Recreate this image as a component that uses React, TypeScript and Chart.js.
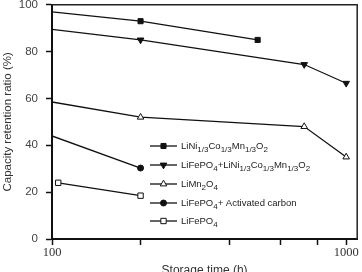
import React, { useEffect, useRef } from 'react';
import { Chart, registerables } from 'chart.js';
import { drawPoint } from 'chart.js/helpers';

Chart.register(...registerables);

// Storage time (h) and capacity retention (%) for each cell type
const ncmTimes = [100, 200, 500];
const ncmRetention = [97, 93, 85];
const blendTimes = [100, 200, 720, 1000];
const blendRetention = [89.5, 85, 74.5, 66.5];
const lmoTimes = [100, 200, 720, 1000];
const lmoRetention = [58.5, 52, 48, 35];
const carbonTimes = [100, 200];
const carbonRetention = [44, 30.3];
const lfpTimes = [105, 200];
const lfpRetention = [24, 18.5];

const yTickValues = [0, 20, 40, 60, 80, 100];
const xTickValues = [100, 200, 400, 600, 800, 1000];
const xTickLabels = ['100', '', '', '', '', '1000'];

// Legend labels as [text, isSubscript] segments
type Seg = [string, boolean];
const legendLabels: Seg[][] = [
  [['LiNi', false], ['1/3', true], ['Co', false], ['1/3', true], ['Mn', false], ['1/3', true], ['O', false], ['2', true]],
  [['LiFePO', false], ['4', true], ['+LiNi', false], ['1/3', true], ['Co', false], ['1/3', true], ['Mn', false], ['1/3', true], ['O', false], ['2', true]],
  [['LiMn', false], ['2', true], ['O', false], ['4', true]],
  [['LiFePO', false], ['4', true], ['+ Activated carbon', false]],
  [['LiFePO', false], ['4', true]],
];

const INK = '#111';

interface Marker { style: string; filled: boolean; rotation: number; radius: number; }
const markers: Marker[] = [
  { style: 'rect', filled: true, rotation: 0, radius: 3.6 },
  { style: 'triangle', filled: true, rotation: 180, radius: 3.8 },
  { style: 'triangle', filled: false, rotation: 0, radius: 3.8 },
  { style: 'circle', filled: true, rotation: 0, radius: 3 },
  { style: 'rect', filled: false, rotation: 0, radius: 3.8 },
];

const seriesTimes = [ncmTimes, blendTimes, lmoTimes, carbonTimes, lfpTimes];
const seriesValues = [ncmRetention, blendRetention, lmoRetention, carbonRetention, lfpRetention];

const decorPlugin = {
  id: 'decor',
  afterDraw(chart: any) {
    const { ctx, chartArea: a } = chart;
    ctx.save();
    // frame top / right
    ctx.strokeStyle = '#222';
    ctx.lineWidth = 1.5;
    ctx.beginPath();
    ctx.moveTo(a.left, a.top);
    ctx.lineTo(a.right, a.top);
    ctx.lineTo(a.right, a.bottom);
    ctx.stroke();

    // legend
    const lineX0 = 150;
    const lineX1 = 177;
    const textX = 181;
    const rows = [146, 165, 184, 203, 221];
    legendLabels.forEach((segs, i) => {
      const y = rows[i];
      const m = markers[i];
      ctx.strokeStyle = INK;
      ctx.lineWidth = 1.3;
      ctx.beginPath();
      ctx.moveTo(lineX0, y);
      ctx.lineTo(lineX1, y);
      ctx.stroke();
      ctx.fillStyle = m.filled ? INK : '#fff';
      ctx.strokeStyle = INK;
      ctx.lineWidth = 1;
      drawPoint(ctx, { pointStyle: m.style as any, rotation: m.rotation, radius: m.radius, borderWidth: 1 }, (lineX0 + lineX1) / 2, y);
      let x = textX;
      ctx.fillStyle = '#222';
      ctx.textBaseline = 'middle';
      ctx.textAlign = 'left';
      segs.forEach(([t, sub]) => {
        ctx.font = sub ? '8px "Liberation Sans"' : '9.5px "Liberation Sans"';
        ctx.fillText(t, x, sub ? y + 3.5 : y);
        x += ctx.measureText(t).width;
      });
    });
    ctx.restore();
  },
};

export default function App() {
  const ref = useRef<HTMLCanvasElement>(null);
  useEffect(() => {
    document.body.style.margin = '0';
    const datasets = seriesTimes.map((xs, i) => {
      const m = markers[i];
      return {
        label: 'series' + i,
        data: xs.map((x, j) => ({ x, y: seriesValues[i][j] })),
        borderColor: INK,
        borderWidth: 1.3,
        pointStyle: m.style,
        pointRotation: m.rotation,
        pointBackgroundColor: m.filled ? INK : '#fff',
        pointBorderColor: INK,
        pointBorderWidth: 1,
        pointRadius: (c: any) => (c.raw && c.raw.x <= 100 ? 0 : m.radius),
        pointHoverRadius: m.radius,
        tension: 0,
        fill: false,
      };
    });
    const chart = new Chart(ref.current!, {
      type: 'line',
      data: { datasets: datasets as any },
      options: {
        animation: false,
        responsive: false,
        devicePixelRatio: 1,
        layout: { padding: { left: 0, right: 3, top: 4, bottom: 0 } },
        plugins: { legend: { display: false }, tooltip: { enabled: false } },
        scales: {
          x: {
            type: 'logarithmic',
            min: 100,
            max: 1090,
            afterBuildTicks: (s: any) => {
              s.ticks = xTickValues.map((v) => ({ value: v }));
            },
            afterFit: (s: any) => {
              s.height = 33;
              s.paddingLeft = 0;
              s.paddingRight = 0;
            },
            ticks: {
              autoSkip: false,
              maxRotation: 0,
              padding: 0,
              color: '#333',
              font: { family: '"Liberation Serif"', size: 12.5 },
              callback: (_v: any, i: number) => xTickLabels[i],
            },
            grid: { display: true, drawOnChartArea: false, drawTicks: true, tickLength: 6, tickWidth: 1.5, tickColor: INK },
            border: { display: true, color: INK, width: 2 },
            title: {
              display: true,
              text: 'Storage time (h)',
              color: '#333',
              font: { family: '"Liberation Sans"', size: 12 },
              padding: { top: 0, bottom: -6 },
            },
          },
          y: {
            type: 'linear',
            min: 0,
            max: 100,
            afterBuildTicks: (s: any) => {
              s.ticks = yTickValues.map((v) => ({ value: v }));
            },
            afterFit: (s: any) => {
              s.width = 52;
              s.paddingTop = 0;
              s.paddingBottom = 0;
            },
            ticks: {
              padding: 8,
              color: '#444',
              font: { family: '"Liberation Sans"', size: 11.5 },
            },
            grid: { display: true, drawOnChartArea: false, drawTicks: true, tickLength: 6, tickWidth: 1.5, tickColor: INK },
            border: { display: true, color: INK, width: 2 },
            title: {
              display: true,
              text: 'Capacity retention ratio (%)',
              color: '#333',
              font: { family: '"Liberation Sans"', size: 11.5 },
              padding: { top: 1, bottom: 0 },
            },
          },
        },
      },
      plugins: [decorPlugin],
    });
    return () => chart.destroy();
  }, []);
  return (
    <div style={{ width: 362, height: 272 }}>
      <canvas ref={ref} width={362} height={272} />
    </div>
  );
}
